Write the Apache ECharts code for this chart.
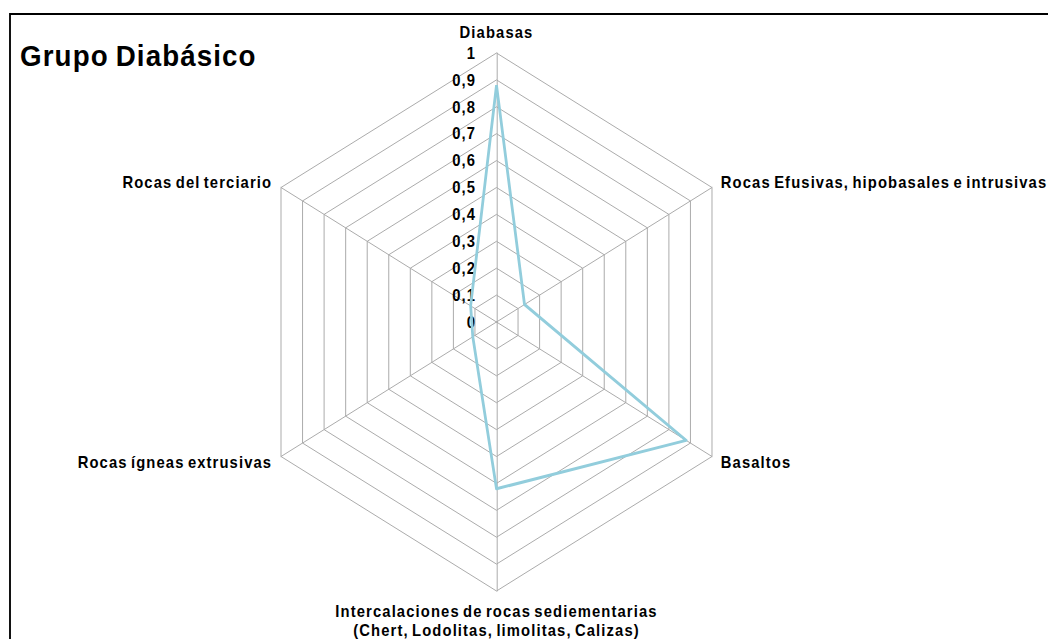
<!DOCTYPE html>
<html>
<head>
<meta charset="utf-8">
<script src="https://cdn.jsdelivr.net/npm/echarts@6/dist/echarts.min.js"></script>
<style>
  html, body { margin: 0; padding: 0; background: #fff; overflow: hidden; }
  #wrap { width: 1048px; height: 639px; overflow: hidden; position: relative; }
  /* the plot is drawn wider and squeezed horizontally so the web is taller than wide */
  #chart { width: 1133px; height: 639px; transform: scaleX(0.925); transform-origin: 0 0; }
  #chart text { letter-spacing: 1.2px; word-spacing: -2px; }
</style>
</head>
<body>
<div id="wrap"><div id="chart"></div></div>
<script>
// Axes listed clockwise from the top
const categories = [
  'Diabasas',
  'Rocas Efusivas, hipobasales e intrusivas',
  'Basaltos',
  'Intercalaciones de rocas sediementarias\n(Chert, Lodolitas, limolitas, Calizas)',
  'Rocas ígneas extrusivas',
  'Rocas del terciario'
];
const values = [0.88, 0.13, 0.88, 0.62, 0.11, 0.12];
const axisMin = 0;
const axisMax = 1;
const axisSplits = 10;
const chartTitle = 'Grupo Diabásico';

const SX = 0.925;               // horizontal squeeze applied by CSS
const FONT = '"Liberation Sans", Arial, sans-serif';

// ECharts lays radar axes counter-clockwise; reorder so they read clockwise
const order = [0, 5, 4, 3, 2, 1];
const indicator = order.map((i, k) => {
  const ind = { name: categories[i], min: axisMin, max: axisMax };
  if (k === 0) {
    ind.axisLabel = {
      show: true,
      color: '#000',
      fontSize: 16,
      fontWeight: 'bold',
      fontFamily: FONT,
      margin: 22,
      formatter: v => String(Math.round(v * 10) / 10).replace('.', ',')
    };
  }
  return ind;
});
const seriesValues = order.map(i => values[i]);

const chart = echarts.init(document.getElementById('chart'), null, { renderer: 'svg' });
chart.setOption({
  animation: false,
  backgroundColor: '#fff',
  title: {
    text: chartTitle,
    left: 20 / SX,
    top: 41,
    padding: 0,
    textStyle: { color: '#000', fontSize: 30, fontWeight: 'bold', fontFamily: FONT }
  },
  graphic: [{
    type: 'rect',
    shape: { x: 10 / SX, y: 14, width: 1300, height: 700 },
    style: { fill: 'none', stroke: '#000', lineWidth: 2 },
    silent: true
  }],
  radar: {
    center: [496.5 / SX, 322],
    radius: 269,
    startAngle: 90,
    shape: 'polygon',
    splitNumber: axisSplits,
    nameGap: 11,
    axisName: { color: '#000', fontSize: 16, fontWeight: 'bold', fontFamily: FONT, lineHeight: 19 },
    axisLine: { lineStyle: { color: '#a8a8a8', width: 1 } },
    splitLine: { lineStyle: { color: '#a8a8a8', width: 1 } },
    splitArea: { show: false },
    axisTick: { show: false },
    axisLabel: { show: false },
    indicator: indicator
  },
  series: [{
    type: 'radar',
    symbol: 'none',
    lineStyle: { color: '#92cddc', width: 3 },
    data: [{ value: seriesValues }]
  }]
});
</script>
</body>
</html>
